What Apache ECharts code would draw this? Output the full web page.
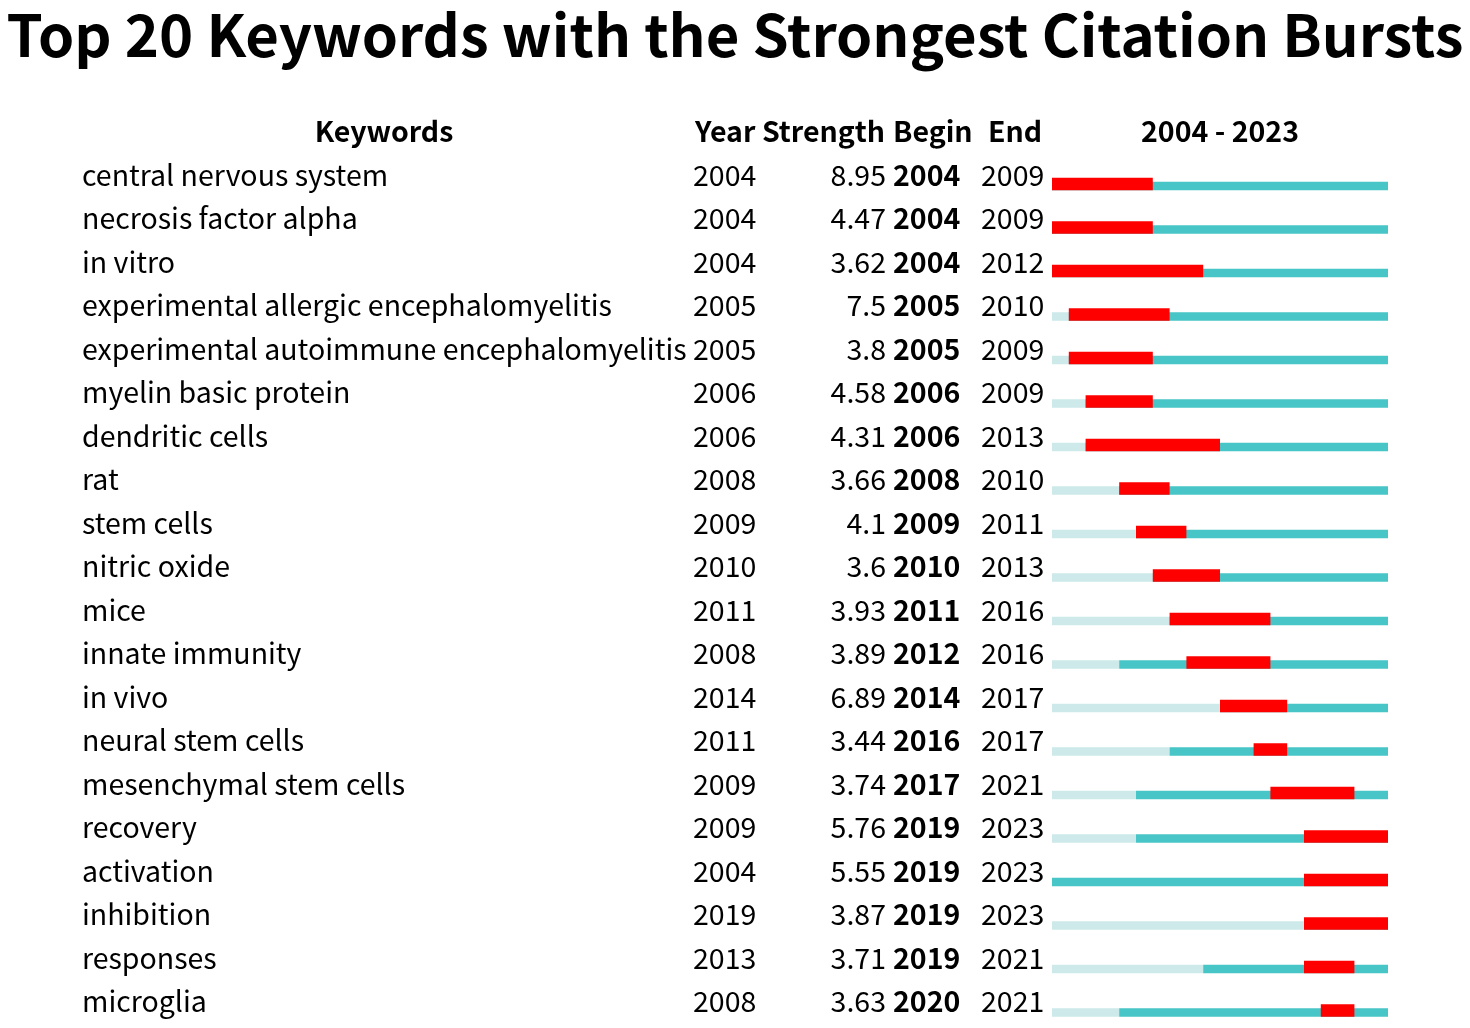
<!DOCTYPE html>
<html>
<head>
<meta charset="utf-8">
<title>Top 20 Keywords with the Strongest Citation Bursts</title>
<script src="https://cdn.jsdelivr.net/npm/echarts@6/dist/echarts.min.js"></script>
<style>
  html, body { margin: 0; padding: 0; background: #fff; }
  #main { width: 1470px; height: 1028px; }
</style>
</head>
<body>
<div id="main"></div>
<script>
// burst data
var keywords = ['central nervous system', 'necrosis factor alpha', 'in vitro',
    'experimental allergic encephalomyelitis', 'experimental autoimmune encephalomyelitis',
    'myelin basic protein', 'dendritic cells', 'rat', 'stem cells', 'nitric oxide', 'mice',
    'innate immunity', 'in vivo', 'neural stem cells', 'mesenchymal stem cells', 'recovery',
    'activation', 'inhibition', 'responses', 'microglia'];
var years     = [2004, 2004, 2004, 2005, 2005, 2006, 2006, 2008, 2009, 2010, 2011, 2008, 2014, 2011, 2009, 2009, 2004, 2019, 2013, 2008];
var strengths = [8.95, 4.47, 3.62, 7.5, 3.8, 4.58, 4.31, 3.66, 4.1, 3.6, 3.93, 3.89, 6.89, 3.44, 3.74, 5.76, 5.55, 3.87, 3.71, 3.63];
var begins    = [2004, 2004, 2004, 2005, 2005, 2006, 2006, 2008, 2009, 2010, 2011, 2012, 2014, 2016, 2017, 2019, 2019, 2019, 2019, 2020];
var ends      = [2009, 2009, 2012, 2010, 2009, 2009, 2013, 2010, 2011, 2013, 2016, 2016, 2017, 2017, 2021, 2023, 2023, 2023, 2021, 2021];
var startYear = 2004;
var endYear = 2023;

var FONT = '"Noto Sans CJK SC", "Noto Sans", sans-serif';
var FS = 28.5;

var myChart = echarts.init(document.getElementById('main'));

var rows = keywords.map(function (k, i) {
    return [i, years[i], begins[i], ends[i], strengths[i]];
});

function txt(x, y, s, align, bold) {
    return {
        type: 'text',
        style: {
            x: x, y: y, text: s,
            textAlign: align || 'left', textVerticalAlign: 'middle',
            font: (bold ? 'bold ' : '') + FS + 'px ' + FONT,
            fill: '#000'
        }
    };
}

function renderRow(params, api) {
    var i = api.value(0);
    var first = api.value(1), b = api.value(2), e = api.value(3), s = api.value(4);
    var p0 = api.coord([startYear, i]);
    var y = p0[1];
    var x0 = p0[0];
    var xf = api.coord([first, i])[0];
    var xb = api.coord([b, i])[0];
    var xe = api.coord([e + 1, i])[0];
    var xz = api.coord([endYear + 1, i])[0];
    var base = y + 10.5;
    var children = [
        txt(82, y - 5, keywords[i], 'left'),
        txt(693, y - 5, String(first), 'left'),
        txt(886, y - 5, String(s), 'right'),
        txt(893, y - 5, String(b), 'left', true),
        txt(981, y - 5, String(e), 'left'),
        { type: 'rect', shape: { x: x0, y: base - 8.5, width: xf - x0, height: 8.5 }, style: { fill: '#CDE9EA' } },
        { type: 'rect', shape: { x: xf, y: base - 8.5, width: xz - xf, height: 8.5 }, style: { fill: '#48C5C6' } },
        { type: 'rect', shape: { x: xb, y: base - 12.5, width: xe - xb, height: 12.5 }, style: { fill: '#FF0000' } }
    ];
    return { type: 'group', children: children };
}

var option = {
    animation: false,
    title: {
        text: 'Top 20 Keywords with the Strongest Citation Bursts',
        left: 'center',
        top: 1,
        textStyle: { fontFamily: FONT, fontSize: 58, fontWeight: 'bold', color: '#000' }
    },
    grid: { left: 1052, right: 82, top: 158, bottom: 0 },
    xAxis: { type: 'value', min: startYear, max: endYear + 1, show: false },
    yAxis: { type: 'category', data: keywords, inverse: true, show: false },
    graphic: [
        txt(384, 131, 'Keywords', 'center', true),
        txt(695, 131, 'Year', 'left', true),
        txt(885, 131, 'Strength', 'right', true),
        txt(893, 131, 'Begin', 'left', true),
        txt(988, 131, 'End', 'left', true),
        txt(1220, 131, startYear + ' - ' + endYear, 'center', true)
    ],
    series: [{
        type: 'custom',
        clip: false,
        renderItem: renderRow,
        encode: { x: 1, y: 0 },
        data: rows
    }]
};

myChart.setOption(option);
</script>
</body>
</html>
